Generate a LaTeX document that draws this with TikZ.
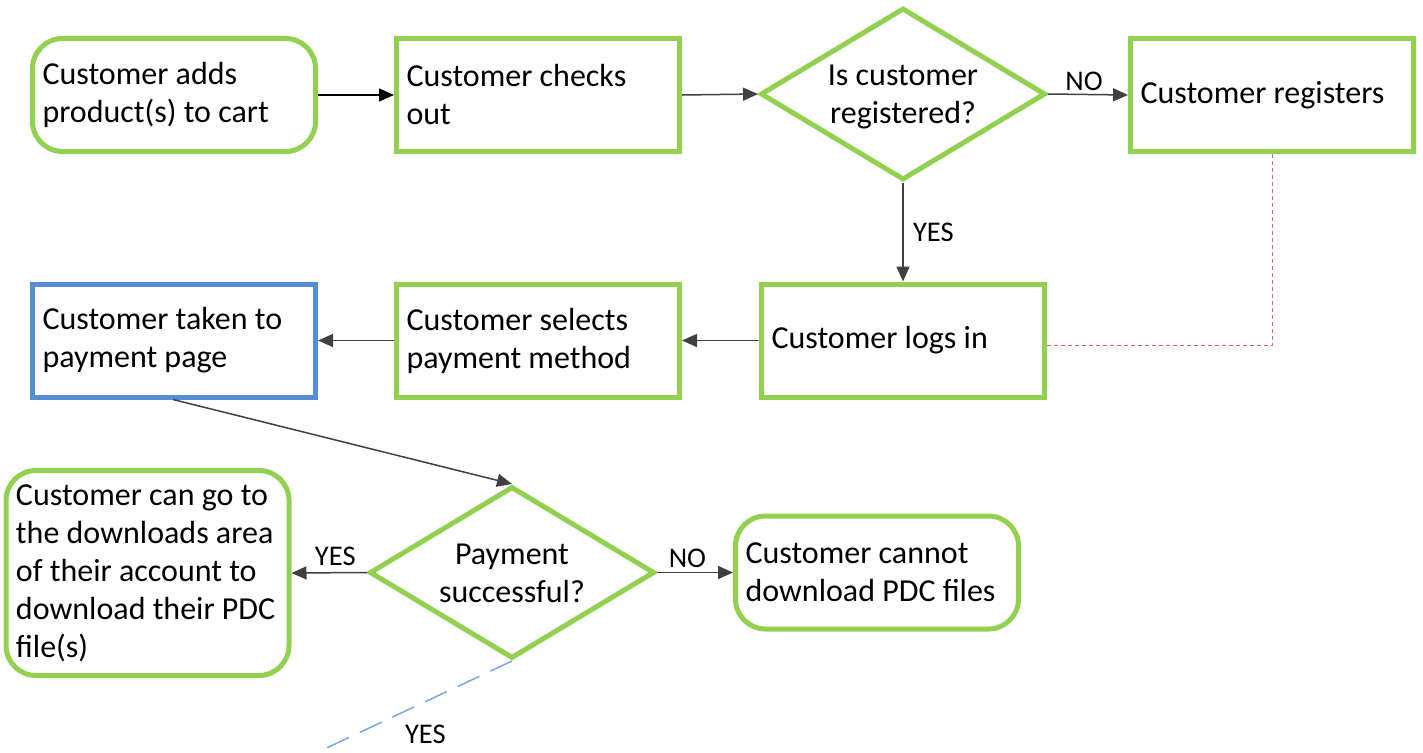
\documentclass[tikz,border=0pt]{standalone}
\usepackage{fontspec}
\setmainfont{Carlito}
\usetikzlibrary{shapes.geometric,arrows.meta}
\definecolor{gbord}{HTML}{92D050}
\definecolor{bbord}{HTML}{558ED5}
\definecolor{arr}{HTML}{404040}
\definecolor{reddash}{HTML}{E06666}
\definecolor{bluedash}{HTML}{7BA7DE}
\newcommand{\boxfont}{\fontsize{32}{38}\selectfont}
\newcommand{\labfont}{\fontsize{28.5}{32}\selectfont}
\tikzset{
  box/.style={draw=gbord, line width=5pt, fill=white, font=\boxfont, align=flush left,
    inner xsep=10pt, inner ysep=0pt, minimum width=283pt, minimum height=113pt, text width=263pt},
  rbox/.style={box, rounded corners=30pt},
  bluebox/.style={box, draw=bbord},
  decision/.style={diamond, draw=gbord, line width=5pt, fill=white,
    inner sep=0pt, minimum width=285pt, minimum height=172pt},
  dtext/.style={font=\boxfont, align=flush center, inner sep=0pt},
  conn/.style={draw=arr, line width=1.5pt, -{Triangle[length=15pt,width=13pt]}},
  lab/.style={font=\labfont, text=black},
}
\begin{document}
\begin{tikzpicture}[x=1pt,y=-1pt]
\useasboundingbox (0,0) rectangle (1423,752);
\node[rbox] (add) at (174,95) {Customer adds\\product(s) to cart};
\node[box] (check) at (538,95) {Customer checks\\out};
\node[decision] (reg) at (903,94) {};
\node[dtext] (regt) at (903,97) {Is customer\\registered?};
\node[box] (regs) at (1272,95) {Customer registers};
\node[box] (login) at (903,340.5) {Customer logs in};
\node[box] (select) at (538,340.5) {Customer selects\\payment method};
\node[bluebox] (pay) at (174,340.5) {Customer taken to\\payment page};
\node[decision] (ok) at (512,572.5) {};
\node[dtext] (okt) at (512,573.5) {Payment\\successful?};
\node[rbox, minimum height=205pt, text width=263pt, inner xsep=10pt] (dl) at (147.5,573) {Customer can go to\\the downloads area\\of their account to\\download their PDC\\file(s)};
\node[rbox] (no) at (877,572.5) {Customer cannot\\download PDC files};
\coordinate (free) at (318,752);

\draw[conn, draw=black] (add.east) -- (check.west);
\draw[conn] (check.east) -- (reg.west);
\draw[conn] (reg.east) -- node[lab, above, pos=0.45] {NO} (regs.west);
\draw[conn] (reg.south) -- node[lab, right, pos=0.5, xshift=6pt] {YES} (login.north);
\draw[conn] (login.west) -- (select.east);
\draw[conn] (select.west) -- (pay.east);
\draw[conn] ([xshift=-1pt]pay.south) -- (ok.north);
\draw[conn] (ok.west) -- node[lab, above, pos=0.42, yshift=3pt] {YES} (dl.east);
\draw[conn] (ok.east) -- node[lab, above, pos=0.4, yshift=1pt] {NO} (no.west);
\draw[reddash, line width=1pt, dash pattern=on 4pt off 3pt] (regs.south) |- ([yshift=-5pt]login.east);
\draw[bluedash, line width=1.5pt, dash pattern=on 24pt off 12pt] (ok.south) -- node[lab, pos=0.5, below right, xshift=-14pt, yshift=-14pt] {YES} (free);
\end{tikzpicture}
\end{document}
